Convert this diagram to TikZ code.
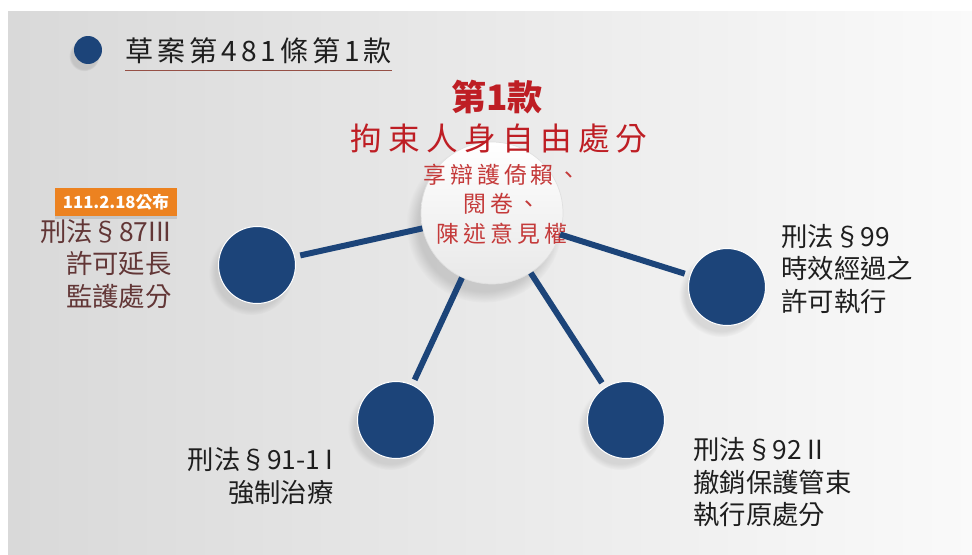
\documentclass[tikz,border=0pt]{standalone}
\usepackage{fontspec}
\setmainfont{Noto Sans CJK TC}
\newfontfamily\spaced[LetterSpace=20]{Noto Sans CJK TC}
\newfontfamily\spacedhead[LetterSpace=14]{Noto Sans CJK TC}
\newfontfamily\spacedsub[LetterSpace=18]{Noto Sans CJK TC}
\usepackage{tikz}
\usetikzlibrary{shadows,positioning}
\usepackage{xcolor}
\definecolor{dnavy}{RGB}{28,68,121}
\definecolor{dred}{RGB}{190,30,36}
\definecolor{dredlight}{RGB}{196,58,58}
\definecolor{dmaroon}{RGB}{98,54,54}
\definecolor{dorange}{RGB}{236,130,32}
\definecolor{dline}{RGB}{150,80,70}
\definecolor{dink}{RGB}{30,30,30}
\tikzstyle{sat} = [circle, minimum size=1.54cm, inner sep=0pt, fill=dnavy, draw=white, line width=0.6pt, circular drop shadow={shadow xshift=-3pt, shadow yshift=-4pt, opacity=0.22}]
\tikzstyle{spoke} = [line width=3.4pt, color=dnavy, shorten >=3pt]
\tikzstyle{lawtext} = [font=\fontsize{15}{18.5}\selectfont, inner sep=0pt, color=dink]

\begin{document}
\begin{tikzpicture}[x=0.02cm, y=-0.02cm]
\useasboundingbox (0,0) rectangle (972,554);
% backdrop
\fill[white] (0,0) rectangle (972,554);
\shade[left color=black!15, right color=black!2] (8,12) rectangle (972,554);

% heading
\node (bullet) [circle, minimum size=0.56cm, inner sep=0pt, fill=dnavy, circular drop shadow={shadow xshift=-2pt, shadow yshift=-3pt, opacity=0.25}] at (88,50) {};
\node (heading) [anchor=west, inner xsep=0pt, inner ysep=3.5pt, font=\spacedhead\fontsize{16}{18}\selectfont, color=dink] at (125,51) {草案第481條第1款};
\draw[dline, line width=0.6pt] (heading.south west) -- (heading.south east);

% hub
\node (hub) [circle, minimum size=2.84cm, inner sep=0pt, top color=white, bottom color=black!9, draw=black!12, circular drop shadow={shadow xshift=-4pt, shadow yshift=-6pt, opacity=0.3}] at (492,213) {};
\node (art1) [font=\bfseries\fontsize{20}{22}\selectfont, color=dred] at (497,97) {第1款};
\node (art1title) [font=\spaced\fontsize{18}{20}\selectfont, color=dred] at (499,139) {拘束人身自由處分};
\node (art1rights) [align=center, font=\spacedsub\fontsize{13}{16.7}\selectfont, color=dredlight] at (502,204) {享辯護倚賴、\\閱卷、\\陳述意見權};

% satellites
\node (sat87) [sat] at (257,265) {};
\node (sat99) [sat] at (727,287) {};
\node (sat91) [sat] at (396,420) {};
\node (sat92) [sat] at (626,420) {};

% spokes
\draw[spoke] (hub) -- (sat87);
\draw[spoke] (hub) -- (sat99);
\draw[spoke] (hub) -- (sat91);
\draw[spoke] (hub) -- (sat92);

% labels
\node (tag87) [fill=dorange, minimum width=2.46cm, minimum height=0.58cm, inner sep=0pt, text=white, font=\bfseries\fontsize{9.5}{11}\selectfont, drop shadow={shadow xshift=0pt, shadow yshift=-1.5pt, opacity=0.25}] at (116,202) {111.2.18公布};
\node (txt87) [lawtext, color=dmaroon, align=right, anchor=north east] at (172,219) {刑法§87III\\許可延長\\監護處分};
\node (txt99) [lawtext, align=left, anchor=north west] at (781,224) {刑法§99\\時效經過之\\許可執行};
\node (txt91) [lawtext, align=right, anchor=north east] at (334,447) {刑法§91-1 I\\強制治療};
\node (txt92) [lawtext, align=left, anchor=north west] at (693,437) {刑法§92 II\\撤銷保護管束\\執行原處分};
\end{tikzpicture}
\end{document}
